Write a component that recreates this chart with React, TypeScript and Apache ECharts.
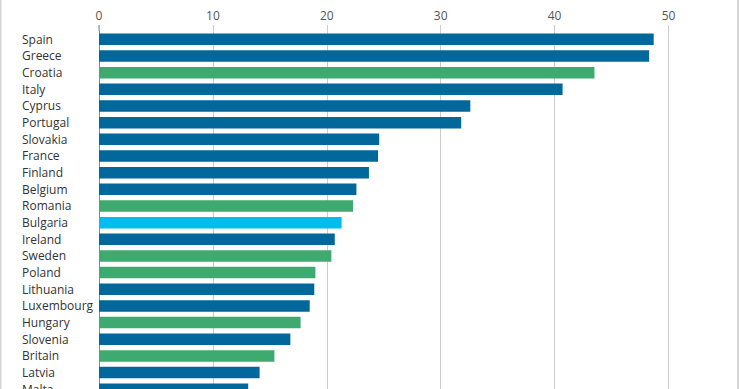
import React, { useEffect, useRef } from "react";
import * as echarts from "echarts";

const countries = [
  "Spain", "Greece", "Croatia", "Italy", "Cyprus", "Portugal", "Slovakia", "France",
  "Finland", "Belgium", "Romania", "Bulgaria", "Ireland", "Sweden", "Poland", "Lithuania",
  "Luxembourg", "Hungary", "Slovenia", "Britain", "Latvia", "Malta",
];
const values = [
  48.7, 48.3, 43.5, 40.7, 32.6, 31.8, 24.6, 24.5,
  23.7, 22.6, 22.3, 21.3, 20.7, 20.4, 19.0, 18.9,
  18.5, 17.7, 16.8, 15.4, 14.1, 13.1,
];
// group: "euro" = euro-area, "non" = non-euro, "hi" = highlighted
const groups = [
  "euro", "euro", "non", "euro", "euro", "euro", "euro", "euro",
  "euro", "euro", "non", "hi", "euro", "non", "non", "euro",
  "euro", "non", "euro", "non", "euro", "euro",
];
const xTicks = [0, 10, 20, 30, 40, 50];

const COLORS: Record<string, string> = {
  euro: "#02679a",
  non: "#3faa6f",
  hi: "#00bdf0",
};

export default function App() {
  const ref = useRef<HTMLDivElement>(null);
  useEffect(() => {
    if (!ref.current) return;
    const chart = echarts.init(ref.current, undefined, { renderer: "svg" });
    chart.setOption({
      animation: false,
      backgroundColor: "#ffffff",
      grid: { left: 99, top: 31, width: 569.5, height: 366.6, containLabel: false },
      xAxis: {
        type: "value",
        position: "top",
        min: xTicks[0],
        max: xTicks[xTicks.length - 1],
        interval: 10,
        axisLine: { show: false },
        axisTick: { show: true, length: 6, lineStyle: { color: "#cccccc", width: 1 } },
        splitLine: { show: true, lineStyle: { color: "#cccccc", width: 1 } },
        axisLabel: {
          margin: 10,
          color: "#555555",
          fontFamily: "Open Sans",
          fontSize: 12,
        },
      },
      yAxis: {
        type: "category",
        inverse: true,
        data: countries,
        axisLine: { show: true, lineStyle: { color: "#8a8a8a", width: 1 } },
        axisTick: { show: false },
        axisLabel: {
          align: "left",
          margin: 77,
          color: "#333333",
          fontFamily: "Open Sans",
          fontSize: 12,
        },
      },
      series: [
        {
          type: "bar",
          barWidth: 11.5,
          data: values.map((v, i) => ({ value: v, itemStyle: { color: COLORS[groups[i]] } })),
        },
      ],
      graphic: [
        { type: "line", shape: { x1: 99, y1: 25, x2: 99, y2: 31 }, style: { stroke: "#8a8a8a", lineWidth: 1 }, z: 10 },
        { type: "rect", shape: { x: 0, y: 0, width: 1.5, height: 420 }, style: { fill: "#d6d6d6" }, z: 10 },
        { type: "rect", shape: { x: 737, y: 0, width: 2, height: 420 }, style: { fill: "#d6d6d6" }, z: 10 },
      ],
    });
    return () => chart.dispose();
  }, []);
  return (
    <div style={{ position: "absolute", left: 0, top: 0, width: 740, height: 389, overflow: "hidden" }}>
      <div ref={ref} style={{ width: 740, height: 420 }} />
    </div>
  );
}
